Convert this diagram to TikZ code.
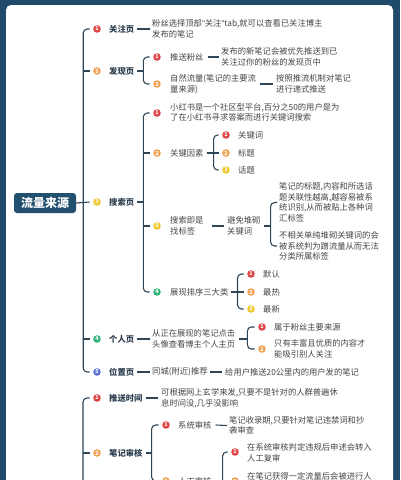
\documentclass[tikz,border=0pt]{standalone}
\usepackage{fontspec}
\setmainfont{Noto Sans CJK SC}
\newfontfamily\latq{Liberation Sans}
\usetikzlibrary{calc}
\definecolor{bgnavy}{HTML}{1F4A6A}
\definecolor{rootc}{HTML}{22506F}
\definecolor{linec}{HTML}{2F4656}
\definecolor{txtc}{HTML}{454545}
\definecolor{labc}{HTML}{2D3E50}
\definecolor{cred}{HTML}{E04848}
\definecolor{corange}{HTML}{F0A458}
\definecolor{cyellow}{HTML}{F0C832}
\definecolor{cgreen}{HTML}{34B57A}
\definecolor{cblue}{HTML}{5C74D6}
\tikzset{
  conn/.style={draw=linec, line width=1.1pt},
  bracket/.style={conn, rounded corners=4pt},
  num/.style={circle, fill=#1, minimum size=7.6pt, inner sep=0pt, text=white,
    font=\fontsize{5.4}{5.4}\selectfont\bfseries},
  lab/.style={anchor=west, inner sep=0pt, text=labc, align=left,
    font=\fontsize{8.3}{10.6}\selectfont\bfseries},
  txt/.style={anchor=west, inner sep=0pt, text=txtc, align=left,
    font=\fontsize{8.3}{10.6}\selectfont},
  rootbox/.style={fill=rootc, rounded corners=3pt, minimum width=62pt,
    minimum height=20pt, inner sep=0pt, text=white,
    font=\fontsize{12}{12}\selectfont\bfseries},
}
\begin{document}
\begin{tikzpicture}[x=1pt,y=-1pt]
\clip (0,0) rectangle (400,480);
\fill[bgnavy] (0,0) rectangle (400,480);
\fill[white, rounded corners=5pt] (6,5) rectangle (393,530);

% root
\node[rootbox] (root) at (45,203) {流量来源};
\coordinate (rs) at ([xshift=7pt]root.east);

% level 1
\node[num=cred] (a1c) at (97,29) {1};
\node[lab] (a1) at (109,29) {关注页};
\node[txt] (a1t) at (152,29) {粉丝选择顶部{\latq"}关注{\latq"}tab,就可以查看已关注博主\\发布的笔记};

\node[num=corange] (a2c) at (97,71) {2};
\node[lab] (a2) at (109,71) {发现页};
\node[num=cred] (a21c) at (157,57) {1};
\node[txt] (a21) at (170,57) {推送粉丝};
\node[txt] (a21t) at (221,57) {发布的新笔记会被优先推送到已\\关注过你的粉丝的发现页中};
\node[num=corange] (a22c) at (157,84) {2};
\node[txt] (a22) at (170,84) {自然流量(笔记的主要流\\量来源)};
\node[txt] (a22t) at (276,84) {按照推流机制对笔记\\进行递式推送};

\node[num=cyellow] (a3c) at (97,202) {3};
\node[lab] (a3) at (109,202) {搜索页};
\node[num=cred] (a31c) at (157,113) {1};
\node[txt] (a31t) at (170,112.5) {小红书是一个社区型平台,百分之50的用户是为\\了在小红书寻求答案而进行关键词搜索};
\node[num=corange] (a32c) at (157,153) {2};
\node[txt] (a32) at (170,153) {关键因素};
\node[num=cred] (a321c) at (226,135) {1};
\node[txt] (a321) at (238,135) {关键词};
\node[num=corange] (a322c) at (226,153) {2};
\node[txt] (a322) at (238,153) {标题};
\node[num=cyellow] (a323c) at (226,170) {3};
\node[txt] (a323) at (238,170) {话题};
\node[num=cyellow] (a33c) at (157,226) {3};
\node[txt] (a33) at (170,226) {搜索即是\\找标签};
\node[txt] (a33b) at (227,226) {避免堆砌\\关键词};
\node[txt] (a331t) at (279,202.5) {笔记的标题,内容和所选话\\题关联性越高,越容易被系\\统识别,从而被贴上各种词\\汇标签};
\node[txt] (a332t) at (279,246) {不相关单纯堆砌关键词的会\\被系统判为蹭流量从而无法\\分类所属标签};
\node[num=cgreen] (a34c) at (157,292) {4};
\node[txt] (a34) at (170,292) {展现排序三大类};
\node[num=cred] (a341c) at (251,274) {1};
\node[txt] (a341) at (263,274) {默认};
\node[num=corange] (a342c) at (251,292) {2};
\node[txt] (a342) at (263,292) {最热};
\node[num=cyellow] (a343c) at (251,309) {3};
\node[txt] (a343) at (263,309) {最新};

\node[num=cgreen] (a4c) at (97,339) {4};
\node[lab] (a4) at (109,339) {个人页};
\node[txt] (a4t) at (152,339) {从正在展现的笔记点击\\头像查看博主个人主页};
\node[num=cred] (a41c) at (262,327) {1};
\node[txt] (a41) at (274,327) {属于粉丝主要来源};
\node[num=corange] (a42c) at (262,349) {2};
\node[txt] (a42) at (274,349) {只有丰富且优质的内容才\\能吸引别人关注};

\node[num=cblue] (a5c) at (97,372) {5};
\node[lab] (a5) at (109,372) {位置页};
\node[txt] (a5t) at (152,372) {同城(附近)推荐};
\node[txt] (a5u) at (225,372) {给用户推送20公里内的用户发的笔记};

% bottom group
\coordinate (bs) at (83,530);
\node[num=cred] (b1c) at (97,398) {1};
\node[lab] (b1) at (109,398) {推送时间};
\node[txt] (b1t) at (161,398) {可根据网上玄学来发,只要不是针对的人群普遍休\\息时间没,几乎没影响};
\node[num=corange] (b2c) at (97,453) {2};
\node[lab] (b2) at (109,453) {笔记审核};
\node[num=cred] (b21c) at (166,425) {1};
\node[txt] (b21) at (178,425) {系统审核};
\node[txt] (b21t) at (229,425.5) {笔记收录期,只要针对笔记违禁词和抄\\袭审查};
\node[num=corange] (b22c) at (166,481) {2};
\node[txt] (b22) at (178,481) {人工审核};
\node[num=cred] (b221c) at (235,452) {1};
\node[txt] (b221t) at (247,453) {在系统审核判定违规后申述会转入\\人工复审};
\node[num=corange] (b222c) at (235,481) {2};
\node[txt] (b222t) at (247,476) {在笔记获得一定流量后会被进行人};

% ---- connectors ----
% top spine
\draw[conn] (root.east) -- ([xshift=-3.5pt]a3c.west);
\draw[bracket] ([xshift=-3.5pt]a1c.west) -| (rs) |- ([xshift=-3.5pt]a5c.west);
\draw[conn] ([xshift=-3.5pt]a2c.west) -- (a2c.west -| rs);
\draw[conn] ([xshift=-3.5pt]a4c.west) -- (a4c.west -| rs);

% 关注页
\draw[conn] ([xshift=3pt]a1.east) -- ([xshift=-2pt]a1t.west);
% 发现页
\coordinate (s2) at ([xshift=9pt]a2.east);
\draw[conn] ([xshift=3pt]a2.east) -- (s2);
\draw[bracket] ([xshift=-3.5pt]a21c.west) -| (s2) |- ([xshift=-3.5pt]a22c.west);
\draw[conn] ([xshift=4pt]a21.east) -- ([xshift=-2pt]a21t.west);
\draw[conn] ([xshift=4pt]a22.east) -- ([xshift=-3pt]a22t.west);
% 搜索页
\coordinate (s3) at ([xshift=9pt]a3.east);
\draw[conn] ([xshift=3pt]a3.east) -- (s3);
\draw[bracket] ([xshift=-3.5pt]a31c.west) -| (s3) |- ([xshift=-3.5pt]a34c.west);
\draw[conn] ([xshift=-3.5pt]a32c.west) -- (a32c.west -| s3);
\draw[conn] ([xshift=-3.5pt]a33c.west) -- (a33c.west -| s3);
\coordinate (s32) at ([xshift=10pt]a32.east);
\draw[conn] ([xshift=3pt]a32.east) -- (s32);
\draw[bracket] ([xshift=-3.5pt]a321c.west) -| (s32) |- ([xshift=-3.5pt]a323c.west);
\draw[conn] ([xshift=-3.5pt]a322c.west) -- (a322c.west -| s32);
\draw[conn] ([xshift=8pt]a33.east) -- ([xshift=-3pt]a33b.west);
\coordinate (s33) at ([xshift=10pt]a33b.east);
\draw[conn] ([xshift=3pt]a33b.east) -- (s33);
\draw[bracket] ([xshift=-2pt]a331t.west) -| (s33) |- ([xshift=-2pt]a332t.west);
\coordinate (s34) at ([xshift=9pt]a34.east);
\draw[conn] ([xshift=2pt]a34.east) -- (s34);
\draw[bracket] ([xshift=-3.5pt]a341c.west) -| (s34) |- ([xshift=-3.5pt]a343c.west);
\draw[conn] ([xshift=-3.5pt]a342c.west) -- (a342c.west -| s34);
% 个人页
\draw[conn] ([xshift=3pt]a4.east) -- ([xshift=-2pt]a4t.west);
\coordinate (s4) at ([xshift=12pt]a4t.east);
\draw[conn] ([xshift=4pt]a4t.east) -- (s4);
\draw[bracket] ([xshift=-3.5pt]a41c.west) -| (s4) |- ([xshift=-3.5pt]a42c.west);
% 位置页
\draw[conn] ([xshift=3pt]a5.east) -- ([xshift=-2pt]a5t.west);
\draw[conn] ([xshift=2pt]a5t.east) -- ([xshift=-3pt]a5u.west);

% bottom spine
\draw[bracket] ([xshift=-3.5pt]b1c.west) -| (bs);
\draw[conn] ([xshift=-3.5pt]b2c.west) -- (b2c.west -| bs);
\draw[conn] ([xshift=3pt]b1.east) -- ([xshift=-3pt]b1t.west);
\coordinate (s5) at ([xshift=9pt]b2.east);
\draw[conn] ([xshift=3pt]b2.east) -- (s5);
\draw[bracket] ([xshift=-3.5pt]b21c.west) -| (s5) |- ([xshift=-3.5pt]b22c.west);
\draw[conn] ([xshift=4pt]b21.east) -- ([xshift=-2pt]b21t.west);
\coordinate (s6) at ([xshift=11pt]b22.east);
\coordinate (s6end) at (s6 |- bs);
\draw[conn] ([xshift=3pt]b22.east) -- (s6);
\draw[bracket] ([xshift=-3.5pt]b221c.west) -| (s6end);
\draw[conn] ([xshift=-3.5pt]b222c.west) -- (b222c.west -| s6);
\end{tikzpicture}
\end{document}
